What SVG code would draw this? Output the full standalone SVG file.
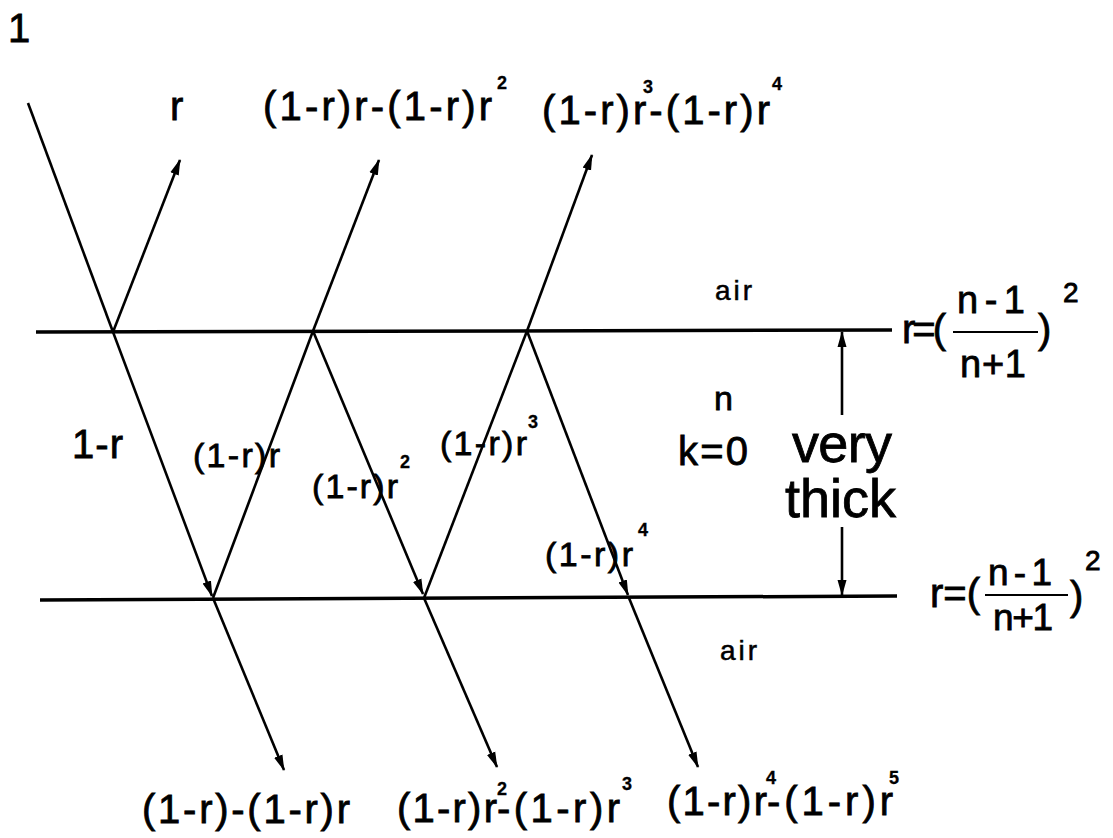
<svg xmlns="http://www.w3.org/2000/svg" width="1113" height="838" viewBox="0 0 1113 838">
<style>
  .t { font-family: "Liberation Sans", Arial, sans-serif; fill: #000; stroke: #000; stroke-width: 0.8; }
  .big { font-size: 40px; }
  .mid { font-size: 34px; }
  .sup { font-size: 18px; font-weight: bold; stroke-width: 0.3; }
  .air { font-size: 28px; letter-spacing: 3px; stroke-width: 0.5; }
  .huge { font-size: 54px; }
  .ray { stroke: #000; stroke-width: 2.6; fill: none; }
  .ray-a { stroke: #000; stroke-width: 2.6; fill: none; marker-end: url(#ah); }
  .iface { stroke: #000; stroke-width: 3.5; fill: none; }
  .bar { stroke: #000; stroke-width: 2; }
</style>
<defs>
  <marker id="ah" markerUnits="userSpaceOnUse" markerWidth="16" markerHeight="10" refX="15" refY="5" orient="auto">
    <path d="M0,0.5 L16,5 L0,9.5 Z" fill="#000"/>
  </marker>
</defs>
<rect width="1113" height="838" fill="#fff"/>

<g id="interfaces">
  <line class="iface" x1="36" y1="332" x2="892" y2="330"/>
  <line class="iface" x1="40" y1="600" x2="897" y2="596"/>
</g>

<g id="connectors">
  <line class="ray" x1="28" y1="103" x2="113" y2="332"/>
  <line class="ray-a" x1="113" y1="332" x2="180" y2="160"/>
  <line class="ray-a" x1="113" y1="332" x2="212" y2="596"/>
  <line class="ray" x1="213" y1="598" x2="313" y2="331"/>
  <line class="ray-a" x1="213" y1="598" x2="284" y2="770"/>
  <line class="ray-a" x1="313" y1="331" x2="379" y2="160"/>
  <line class="ray-a" x1="313" y1="331" x2="423" y2="594"/>
  <line class="ray" x1="424" y1="598" x2="527" y2="331"/>
  <line class="ray-a" x1="424" y1="598" x2="497" y2="767"/>
  <line class="ray-a" x1="527" y1="331" x2="592" y2="155"/>
  <line class="ray-a" x1="527" y1="331" x2="628" y2="595"/>
  <line class="ray-a" x1="629" y1="598" x2="698" y2="767"/>
  <line class="ray-a" x1="842" y1="415" x2="842" y2="332"/>
  <line class="ray-a" x1="842" y1="527" x2="842" y2="595"/>
</g>

<g id="label-incident"><text class="t big" x="8" y="42">1</text></g>

<g id="label-r"><text class="t big" x="170" y="120">r</text></g>

<g id="label-top-2">
  <text class="t big"><tspan x="263" y="120" textLength="229" lengthAdjust="spacing">(1-r)r-(1-r)r</tspan><tspan class="sup" x="497" y="89">2</tspan></text>
</g>

<g id="label-top-3">
  <text class="t big"><tspan x="542" y="124" textLength="228" lengthAdjust="spacing">(1-r)r-(1-r)r</tspan><tspan class="sup" x="643" y="93">3</tspan><tspan class="sup" x="772" y="90">4</tspan></text>
</g>

<g id="labels-inside">
  <text class="t big" x="72" y="458" textLength="51" lengthAdjust="spacing">1-r</text>
  <text class="t mid" x="193" y="467" textLength="87" lengthAdjust="spacing">(1-r)r</text>
  <text class="t mid"><tspan x="312" y="498" textLength="86" lengthAdjust="spacing">(1-r)r</tspan><tspan class="sup" x="400" y="468">2</tspan></text>
  <text class="t mid"><tspan x="440" y="455" textLength="87" lengthAdjust="spacing">(1-r)r</tspan><tspan class="sup" x="528" y="428">3</tspan></text>
  <text class="t mid"><tspan x="545" y="566" textLength="88" lengthAdjust="spacing">(1-r)r</tspan><tspan class="sup" x="638" y="536">4</tspan></text>
</g>

<g id="labels-medium">
  <text class="t air" x="715" y="300">air</text>
  <text class="t mid" x="714" y="410">n</text>
  <text class="t big" x="678" y="465" textLength="70" lengthAdjust="spacing">k=0</text>
  <text class="t huge" x="792" y="462" textLength="100" lengthAdjust="spacing">very</text>
  <text class="t huge" x="785" y="517" textLength="111" lengthAdjust="spacing">thick</text>
  <text class="t air" x="720" y="660">air</text>
</g>

<g id="formula-top">
  <text class="t big" x="902" y="343" textLength="44" lengthAdjust="spacing">r=(</text>
  <text class="t" x="957" y="313" font-size="38" textLength="68" lengthAdjust="spacing">n-1</text>
  <line class="bar" x1="953" y1="332" x2="1038" y2="332"/>
  <text class="t" x="960" y="377" font-size="38" textLength="66" lengthAdjust="spacing">n+1</text>
  <text class="t big" x="1038" y="343">)</text>
  <text class="t" x="1063" y="302" font-size="28">2</text>
</g>

<g id="formula-bottom">
  <text class="t big" x="930" y="607" textLength="50" lengthAdjust="spacing">r=(</text>
  <text class="t" x="988" y="585" font-size="37" textLength="64" lengthAdjust="spacing">n-1</text>
  <line class="bar" x1="985" y1="595" x2="1068" y2="595"/>
  <text class="t" x="993" y="630" font-size="37" textLength="60" lengthAdjust="spacing">n+1</text>
  <text class="t big" x="1070" y="610">)</text>
  <text class="t" x="1085" y="570" font-size="28">2</text>
</g>

<g id="label-bottom-1">
  <text class="t big" x="142" y="823" textLength="208" lengthAdjust="spacing">(1-r)-(1-r)r</text>
</g>
<g id="label-bottom-2">
  <text class="t big"><tspan x="397" y="822" textLength="100" lengthAdjust="spacing">(1-r)r</tspan><tspan class="sup" x="497" y="795">2</tspan><tspan x="497" y="822" textLength="123" lengthAdjust="spacing">-(1-r)r</tspan><tspan class="sup" x="622" y="790">3</tspan></text>
</g>
<g id="label-bottom-3">
  <text class="t big"><tspan x="667" y="815" textLength="100" lengthAdjust="spacing">(1-r)r</tspan><tspan class="sup" x="766" y="784">4</tspan><tspan x="767" y="815" textLength="126" lengthAdjust="spacing">-(1-r)r</tspan><tspan class="sup" x="889" y="784">5</tspan></text>
</g>
</svg>
